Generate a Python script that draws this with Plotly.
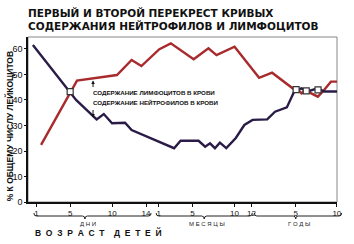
import plotly.graph_objects as go

# ---------------- data ----------------
# x values are positions on the piecewise age scale:
# days 1..14 -> 1..14, months m -> 14.5 + m, years: 1 -> 26.5, 5 -> 31.75, 10 -> 36.63
neut_x = [0.58, 5.0, 5.70, 8.14, 8.99, 9.97, 11.51, 12.29, 17.33, 18.10, 20.23, 21.01,
          21.59, 22.17, 22.76, 23.52, 24.65, 25.66, 26.63, 28.37, 29.30, 30.70, 31.66,
          31.86, 32.44, 33.02, 33.80, 34.38, 35.12, 36.70]
neut_y = [61.6, 43.3, 40.0, 32.4, 34.5, 30.9, 31.1, 28.2, 21.1, 24.0, 24.0, 21.7,
          23.0, 21.1, 23.3, 21.1, 25.1, 30.2, 32.2, 32.4, 35.4, 37.1, 43.9,
          43.9, 44.6, 43.3, 43.9, 44.6, 43.3, 43.3]

lymph_x = [1.55, 5.0, 5.81, 10.55, 12.29, 13.45, 15.58, 16.94, 19.65, 21.40, 22.36,
           24.50, 27.41, 28.95, 31.66, 31.86, 32.44, 33.02, 33.60, 34.38, 34.97,
           35.93, 36.70]
lymph_y = [22.4, 43.3, 47.6, 49.8, 55.7, 53.3, 59.9, 62.2, 56.0, 60.3, 57.6,
           60.9, 48.7, 50.7, 43.9, 44.6, 42.6, 43.9, 42.6, 41.3, 43.3,
           47.2, 47.2]

cross_x = [5.0, 31.8, 33.0, 34.4]
cross_y = [43.3, 44.1, 43.6, 44.0]

tick_pos = [1, 5, 10, 14, 15.5, 19.5, 24.5, 26.5, 31.75, 36.63]
tick_text = ["1", "5", "10", "14", "1", "5", "10", "12", "5", "10"]
y_ticks = [0, 10, 20, 30, 40, 50, 60]

X_MAX = 36.65
Y_MAX = 64.7

title_lines = ["ПЕРВЫЙ И ВТОРОЙ ПЕРЕКРЕСТ КРИВЫХ",
               "СОДЕРЖАНИЯ НЕЙТРОФИЛОВ И ЛИМФОЦИТОВ"]
label_lymph = "СОДЕРЖАНИЕ ЛИМФОЦИТОВ В КРОВИ"
label_neut = "СОДЕРЖАНИЕ НЕЙТРОФИЛОВ В КРОВИ"
y_title = "% К ОБЩЕМУ ЧИСЛУ ЛЕЙКОЦИТОВ"
x_title = "ВОЗРАСТ ДЕТЕЙ"
# brace groups: (label, start pos, end pos, tip pos)
groups = [("ДНИ", 0.7, 14.6, 6.75), ("МЕСЯЦЫ", 15.2, 26.6, 20.9), ("ГОДЫ", 26.85, 37.2, 31.75)]

RED = "#a82a2c"
BLUE = "#2a1c46"

# ---------------- layout geometry ----------------
W, H = 354, 244
ML, MR, MT, MB = 26, 13, 37, 42
PW, PH = W - ML - MR, H - MT - MB


def px_x(px):
    return (px - ML) / PW


def px_y(py):
    return (H - MB - py) / PH


def pos_to_paper(p):
    return p / X_MAX


fig = go.Figure()
fig.add_trace(go.Scatter(x=lymph_x, y=lymph_y, mode="lines",
                         line=dict(color=RED, width=2.4), hoverinfo="skip"))
fig.add_trace(go.Scatter(x=neut_x, y=neut_y, mode="lines",
                         line=dict(color=BLUE, width=2.4), hoverinfo="skip"))
fig.add_trace(go.Scatter(x=cross_x, y=cross_y, mode="markers",
                         marker=dict(symbol="square", size=6, color="white",
                                     line=dict(color="#333333", width=1.2)),
                         hoverinfo="skip", cliponaxis=False))

font_b = "Liberation Sans, Arial, sans-serif"
annotations = []
# title
for i, line in enumerate(title_lines):
    annotations.append(dict(text="<b>" + line + "</b>", xref="paper", yref="paper",
                            x=px_x(24), y=px_y(12.5 + 13.5 * i), xanchor="left", yanchor="middle",
                            showarrow=False, font=dict(family="DejaVu Sans", size=10.5, color="#111")))
# curve labels
annotations.append(dict(text="<b>" + label_lymph + "</b>", xref="paper", yref="paper",
                        x=px_x(90.5), y=px_y(92.7), xanchor="left", yanchor="middle",
                        showarrow=False, font=dict(family=font_b, size=6.2, color="#111")))
annotations.append(dict(text="<b>" + label_neut + "</b>", xref="paper", yref="paper",
                        x=px_x(90.5), y=px_y(102.5), xanchor="left", yanchor="middle",
                        showarrow=False, font=dict(family=font_b, size=6.2, color="#111")))
# small arrows
annotations.append(dict(text="", xref="paper", yref="paper", x=px_x(92.3), y=px_y(80.5),
                        ax=0, ay=8, showarrow=True, arrowhead=2, arrowsize=0.7,
                        arrowwidth=1, arrowcolor="#111"))
annotations.append(dict(text="", xref="paper", yref="paper", x=px_x(92.3), y=px_y(117.5),
                        ax=0, ay=-9, showarrow=True, arrowhead=2, arrowsize=0.7,
                        arrowwidth=1, arrowcolor="#111"))
# y axis title
annotations.append(dict(text="<b>" + y_title + "</b>", xref="paper", yref="paper",
                        x=px_x(8), y=px_y(126), textangle=-90, xanchor="center", yanchor="middle",
                        showarrow=False, font=dict(family=font_b, size=8.5, color="#111")))
# x title (letter spaced)
nb = "\u00a0"
spaced = (nb * 4).join((nb * 2).join(w) for w in x_title.split(" "))
annotations.append(dict(text="<b>" + spaced + "</b>", xref="paper", yref="paper",
                        x=px_x(31), y=px_y(232), xanchor="left", yanchor="middle",
                        showarrow=False, font=dict(family=font_b, size=8.5, color="#111")))

shapes = []
brace_top = px_y(213)
brace_mid = px_y(216)
brace_tip = px_y(219)
for label, a, b, t in groups:
    xa, xb, xt = pos_to_paper(a), pos_to_paper(b), pos_to_paper(t)
    d = 0.008
    path = (f"M {xa},{brace_top} Q {xa},{brace_mid} {xa + d},{brace_mid} "
            f"L {xt - d},{brace_mid} Q {xt},{brace_mid} {xt},{brace_tip} "
            f"Q {xt},{brace_mid} {xt + d},{brace_mid} "
            f"L {xb - d},{brace_mid} Q {xb},{brace_mid} {xb},{brace_top}")
    shapes.append(dict(type="path", path=path, xref="paper", yref="paper",
                       line=dict(color="#222", width=1)))
    annotations.append(dict(text=(nb).join(label), xref="paper", yref="paper",
                            x=pos_to_paper(t) + 0.01, y=px_y(223.5), xanchor="center",
                            yanchor="middle", showarrow=False,
                            font=dict(family=font_b, size=6, color="#222")))

# frame (thin top/right)
shapes.append(dict(type="rect", xref="paper", yref="paper", x0=0, x1=1, y0=0, y1=1,
                   line=dict(color="#888", width=1), layer="below"))

fig.update_layout(
    width=W, height=H, margin=dict(l=ML, r=MR, t=MT, b=MB, pad=0),
    paper_bgcolor="white", plot_bgcolor="white", showlegend=False,
    annotations=annotations, shapes=shapes,
    xaxis=dict(range=[0, X_MAX], tickmode="array", tickvals=tick_pos, ticktext=tick_text,
               showgrid=False, zeroline=False, showline=True, linecolor="#111", linewidth=1.5,
               ticks="outside", ticklen=3, tickcolor="#111", tickwidth=1,
               tickfont=dict(family=font_b, size=8, color="#111")),
    yaxis=dict(range=[0, Y_MAX], tickmode="array", tickvals=y_ticks,
               showgrid=False, zeroline=False, showline=True, linecolor="#111", linewidth=1.5,
               ticks="outside", ticklen=2, tickcolor="#111", tickwidth=1,
               tickfont=dict(family=font_b, size=9, color="#111")),
)

fig.write_html("out.html")
